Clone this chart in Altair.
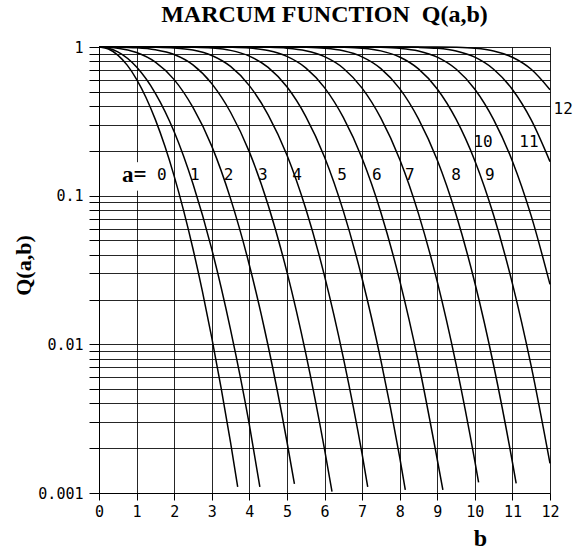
import altair as alt
import pandas as pd

# ---- curve data: Q(a,b) vs b for a = 0..12 ----
b_a0 = [0, 0.25, 0.5, 0.75, 1, 1.25, 1.5, 1.75, 2, 2.25, 2.5, 2.75, 3, 3.25, 3.5, 3.69]
q_a0 = [1, 0.9692, 0.8825, 0.7548, 0.6065, 0.4578, 0.3247, 0.2163, 0.1353, 0.0796, 0.04394, 0.0228, 0.01111, 0.00508, 0.002187, 0.0011]

b_a1 = [0, 0.25, 0.5, 1, 1.5, 2, 2.5, 3, 3.5, 4, 4.28]
q_a1 = [1, 0.981, 0.9265, 0.7328, 0.488, 0.269, 0.1202, 0.0437, 0.01257, 0.00288, 0.0011]

b_a2 = [0, 0.5, 1, 1.5, 2, 2.5, 3, 3.5, 4, 4.5, 5, 5.2]
q_a2 = [1, 0.982, 0.918, 0.791, 0.6035, 0.392, 0.2154, 0.0955, 0.0342, 0.00978, 0.00222, 0.00115]

b_a3 = [0, 0.5, 1, 1.5, 2, 2.5, 3, 3.5, 4, 4.5, 5, 5.5, 6, 6.2]
q_a3 = [1, 0.998, 0.989, 0.959, 0.890, 0.758, 0.567, 0.364, 0.197, 0.0866, 0.0307, 0.00872, 0.00197, 0.00102]

b_a4 = [0, 1, 1.5, 2, 2.5, 3, 3.5, 4, 4.5, 5, 5.5, 6, 6.5, 7, 7.15]
q_a4 = [1, 0.9994, 0.9965, 0.986, 0.953, 0.877, 0.740, 0.550, 0.350, 0.1878, 0.0819, 0.0289, 0.00815, 0.00183, 0.0011]

b_a5 = [0, 2, 2.5, 3, 3.5, 4, 4.5, 5, 5.5, 6, 6.5, 7, 7.5, 8, 8.15]
q_a5 = [1, 0.9992, 0.9958, 0.984, 0.949, 0.869, 0.730, 0.540, 0.342, 0.1821, 0.0790, 0.0277, 0.00779, 0.00174, 0.00105]

b_a6 = [0, 3, 3.5, 4, 4.5, 5, 5.5, 6, 6.5, 7, 7.5, 8, 8.5, 9, 9.15]
q_a6 = [1, 0.9991, 0.9954, 0.983, 0.946, 0.864, 0.724, 0.533, 0.336, 0.1783, 0.0771, 0.02695, 0.00755, 0.00168, 0.00105]

b_a7 = [0, 4, 4.5, 5, 5.5, 6, 6.5, 7, 7.5, 8, 8.5, 9, 9.5, 10, 10.1]
q_a7 = [1, 0.999, 0.9952, 0.982, 0.944, 0.861, 0.720, 0.5285, 0.332, 0.1756, 0.0757, 0.0264, 0.00737, 0.00164, 0.00118]

b_a8 = [0, 5, 5.5, 6, 6.5, 7, 7.5, 8, 8.5, 9, 9.5, 10, 10.5, 11, 11.1]
q_a8 = [1, 0.999, 0.995, 0.981, 0.943, 0.859, 0.716, 0.525, 0.329, 0.1735, 0.0746, 0.02595, 0.00723, 0.00161, 0.00116]

b_a9 = [0, 6, 6.5, 7, 7.5, 8, 8.5, 9, 9.5, 10, 10.5, 11, 11.5, 12]
q_a9 = [1, 0.9989, 0.9949, 0.981, 0.942, 0.857, 0.713, 0.522, 0.327, 0.1719, 0.0738, 0.0256, 0.00713, 0.00158]

b_a10 = [0, 7, 7.5, 8, 8.5, 9, 9.5, 10, 10.5, 11, 11.5, 12]
q_a10 = [1, 0.9989, 0.9947, 0.980, 0.941, 0.855, 0.711, 0.520, 0.325, 0.1706, 0.0731, 0.0253]

b_a11 = [0, 8, 8.5, 9, 9.5, 10, 10.5, 11, 11.5, 12]
q_a11 = [1, 0.9989, 0.9946, 0.980, 0.940, 0.854, 0.709, 0.518, 0.3235, 0.1695]

b_a12 = [0, 9, 9.5, 10, 10.5, 11, 11.5, 12]
q_a12 = [1, 0.9988, 0.9946, 0.980, 0.940, 0.853, 0.708, 0.5166]

# ---- curve labels ----
label_text = ["0", "1", "2", "3", "4", "5", "6", "7", "8", "9", "10", "11", "12"]
label_b = [1.67, 2.55, 3.45, 4.36, 5.27, 6.47, 7.39, 8.27, 9.50, 10.40, 10.22, 11.44, 12.35]
label_q = [0.137, 0.137, 0.137, 0.137, 0.137, 0.137, 0.137, 0.137, 0.137, 0.137, 0.231, 0.231, 0.385]
prefix_text = ["a="]
prefix_b = [0.94]
prefix_q = [0.138]
prefix_box_b = [0.62, 1.28]
prefix_box_q = [0.108, 0.168]

# ---- axes ----
x_ticks = list(range(0, 13))
y_major = [1, 0.1, 0.01, 0.001]
y_major_labels = ["1", "0.1", "0.01", "0.001"]
y_ticks = [m * 10.0 ** e for e in (-3, -2, -1) for m in range(1, 10)] + [1]

curves_b = [b_a0, b_a1, b_a2, b_a3, b_a4, b_a5, b_a6, b_a7, b_a8, b_a9, b_a10, b_a11, b_a12]
curves_q = [q_a0, q_a1, q_a2, q_a3, q_a4, q_a5, q_a6, q_a7, q_a8, q_a9, q_a10, q_a11, q_a12]

rows = []
for a, (bs, qs) in enumerate(zip(curves_b, curves_q)):
    for i, (b, q) in enumerate(zip(bs, qs)):
        rows.append({"a": a, "b": b, "q": q, "i": i})
curve_df = pd.DataFrame(rows)
label_df = pd.DataFrame({"b": label_b, "q": label_q, "t": label_text})
prefix_df = pd.DataFrame({"b": prefix_b, "q": prefix_q, "t": prefix_text})
box_df = pd.DataFrame({"b": [prefix_box_b[0]], "b2": [prefix_box_b[1]],
                       "q": [prefix_box_q[0]], "q2": [prefix_box_q[1]]})

label_expr = " : ".join(
    f"datum.value == {v} ? '{t}'" for v, t in zip(y_major, y_major_labels)
) + " : ''"

x_scale = alt.Scale(domain=[0, 12], nice=False, zero=False)
y_scale = alt.Scale(type="log", domain=[0.001, 1], nice=False)

common = dict(
    grid=True, gridColor="black", gridOpacity=0.85, gridWidth=1,
    tickColor="black", tickWidth=1, domainColor="black", domainWidth=1,
    labelFont="DejaVu Sans Mono", labelFontSize=15, labelColor="black",
    titleFont="Liberation Serif", titleFontWeight="bold", titleColor="black",
    labelOverlap=False, labelFlush=False, labelBound=False,
)
x_axis = alt.Axis(
    values=x_ticks, format="d", title="b", tickSize=7, labelPadding=4,
    titleFontSize=24, titleX=381, titleY=52, titleBaseline="alphabetic",
    titleAlign="center", titleAngle=0, **common,
)
y_axis = alt.Axis(
    values=y_ticks, labelExpr=label_expr, title="Q(a,b)", tickSize=10,
    labelPadding=6, titleFontSize=22, titleX=-76, titleY=218, titleAngle=-90,
    titleBaseline="middle", titleAlign="center", **common,
)

X = alt.X("b:Q", scale=x_scale, axis=x_axis)
Y = alt.Y("q:Q", scale=y_scale, axis=y_axis)

lines = alt.Chart(curve_df).mark_line(
    interpolate="monotone", color="black", strokeWidth=1.5
).encode(x=X, y=Y, detail="a:N", order="i:Q")

box = alt.Chart(box_df).mark_rect(color="white").encode(
    x=X, x2="b2:Q", y=Y, y2="q2:Q"
)

labels = alt.Chart(label_df).mark_text(
    font="DejaVu Sans Mono", fontSize=16, align="center", baseline="middle", color="black"
).encode(x=X, y=Y, text="t:N")

prefix = alt.Chart(prefix_df).mark_text(
    font="Liberation Serif", fontSize=23, fontWeight="bold", align="center",
    baseline="middle", color="black"
).encode(x=X, y=Y, text="t:N")

chart = alt.layer(lines, box, labels, prefix).properties(
    width=451, height=446,
    padding={"left": 99, "top": 47, "right": 34, "bottom": 56},
    autosize="none",
    title=alt.TitleParams(
        text="MARCUM FUNCTION\u00a0 Q(a,b)", font="Liberation Serif", fontSize=24,
        fontWeight="bold", anchor="middle", frame="group", offset=-6,
        baseline="alphabetic", color="black",
    ),
).configure_view(stroke="black", strokeWidth=1).configure(background="white")

chart.save("out.html", embed_options={"renderer": "svg", "actions": False})
